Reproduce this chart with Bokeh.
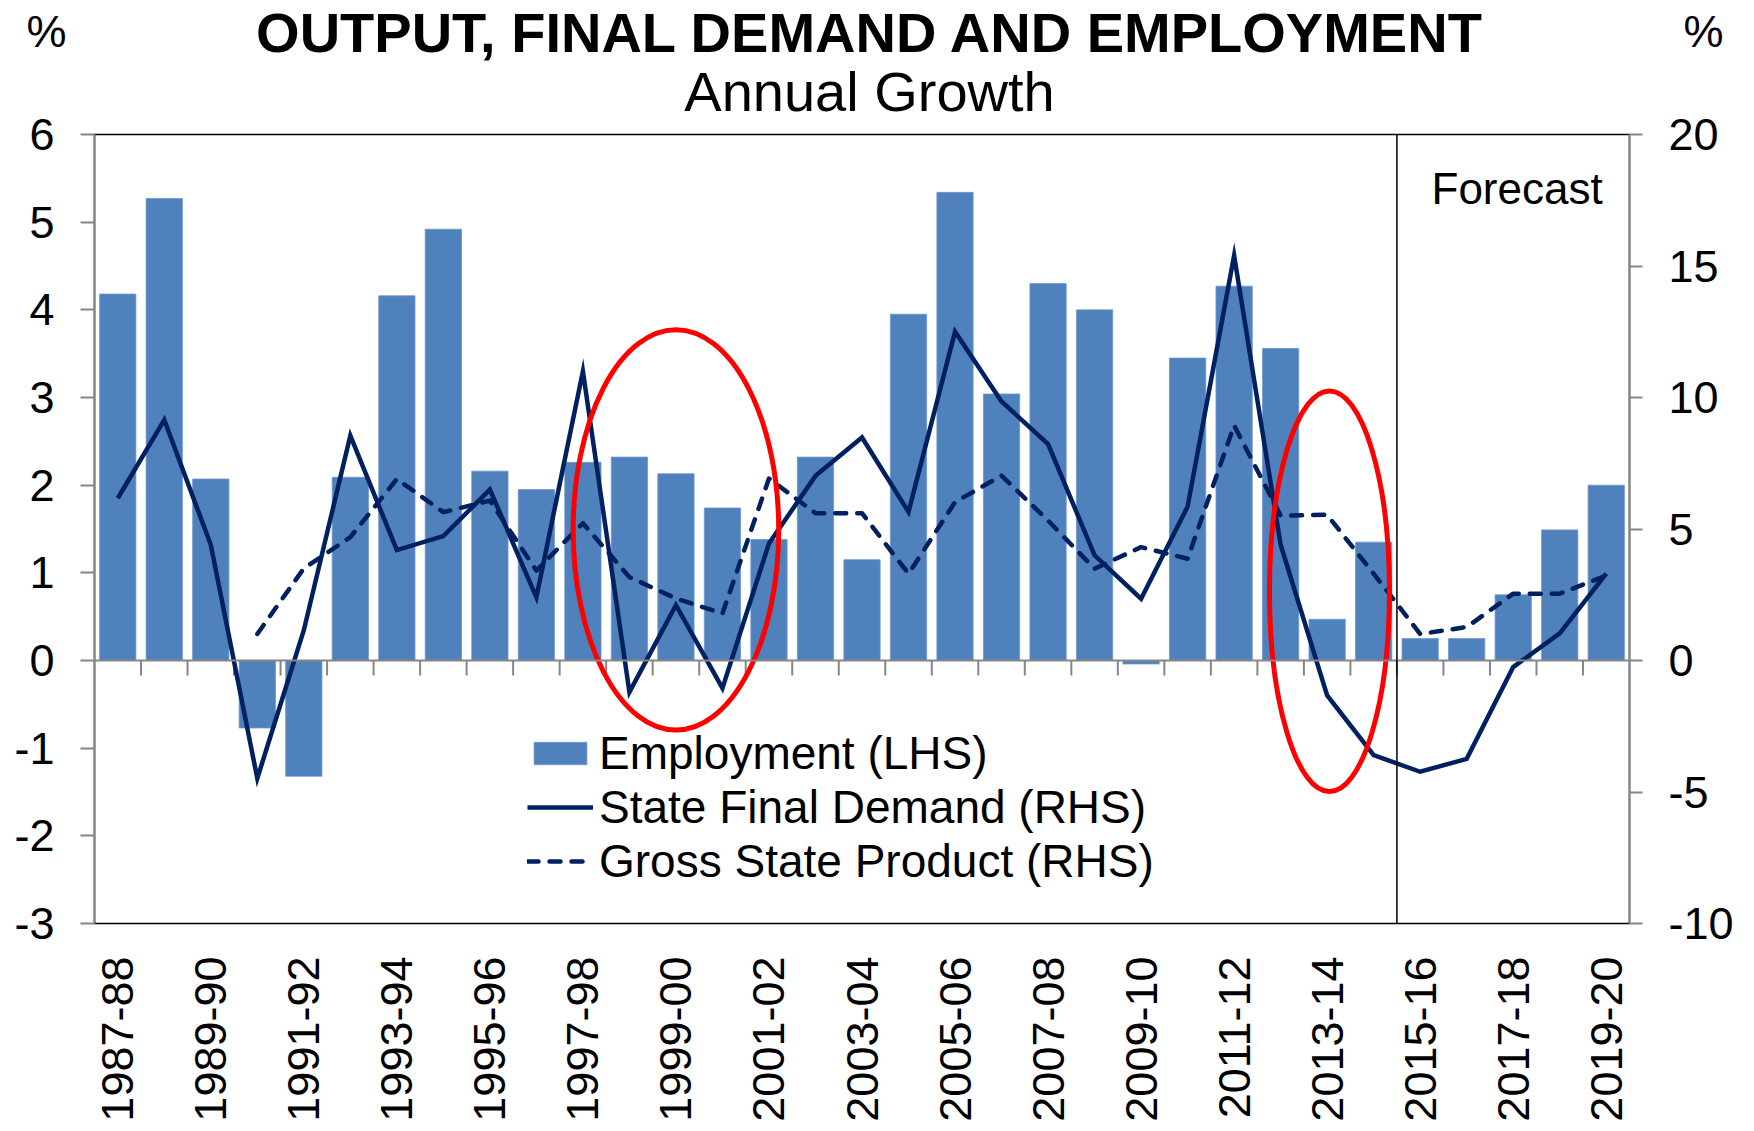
import numpy as np
from bokeh.plotting import figure
from bokeh.layouts import column
from bokeh.models import (Range1d, LinearAxis, FixedTicker, Span, Label,
                          Legend, LegendItem, ColumnDataSource)
from bokeh.core.properties import value
from bokeh.embed import file_html
from bokeh.resources import INLINE

# ---------------- data ----------------
years = ["1987-88", "1988-89", "1989-90", "1990-91", "1991-92", "1992-93",
         "1993-94", "1994-95", "1995-96", "1996-97", "1997-98", "1998-99",
         "1999-00", "2000-01", "2001-02", "2002-03", "2003-04", "2004-05",
         "2005-06", "2006-07", "2007-08", "2008-09", "2009-10", "2010-11",
         "2011-12", "2012-13", "2013-14", "2014-15", "2015-16", "2016-17",
         "2017-18", "2018-19", "2019-20"]

employment = [4.18, 5.27, 2.07, -0.77, -1.32, 2.09, 4.16, 4.92, 2.16, 1.95,
              2.26, 2.32, 2.13, 1.74, 1.38, 2.32, 1.15, 3.95, 5.34, 3.04,
              4.30, 4.00, -0.04, 3.45, 4.27, 3.56, 0.47, 1.35, 0.25, 0.25,
              0.75, 1.49, 2.00]

state_final_demand = [6.17, 9.15, 4.40, -4.48, 1.15, 8.55, 4.20, 4.73, 6.50,
                      2.40, 11.0, -1.20, 2.10, -1.05, 4.45, 7.02, 8.48, 5.65,
                      12.5, 9.85, 8.23, 4.00, 2.35, 5.85, 15.4, 4.40, -1.33,
                      -3.60, -4.23, -3.74, -0.25, 1.03, 3.30]

gross_state_product = [np.nan, np.nan, np.nan, 1.01, 3.50, 4.69, 6.90, 5.64,
                       6.08, 3.42, 5.22, 3.17, 2.36, 1.79, 6.92, 5.60, 5.60,
                       3.30, 6.02, 7.03, 5.32, 3.49, 4.31, 3.87, 8.94, 5.51,
                       5.54, 3.30, 1.01, 1.27, 2.54, 2.54, 3.23]

first_forecast = "2015-16"

lhs_ticks = [-3, -2, -1, 0, 1, 2, 3, 4, 5, 6]
rhs_ticks = [-10, -5, 0, 5, 10, 15, 20]

title_text = "OUTPUT, FINAL DEMAND AND EMPLOYMENT"
subtitle_text = "Annual Growth"
unit_text = "%"

# highlighted regions (category centre, LHS centre, width in categories, height in LHS units)
ellipse_cat = ["1999-00", "2013-14"]
ellipse_dx = [0.0, 0.05]
ellipse_y = [1.49, 0.79]
ellipse_w = [4.42, 2.58]
ellipse_h = [4.57, 4.57]

# ---------------- layout ----------------
FONT = "Liberation Sans"
CW = 1738              # canvas width
FW, FH = 1535, 789     # plot frame
LEFT, TOP = 94, 134    # frame position in picture
HEAD = TOP             # header strip height
OVERLAP = 30           # main canvas starts this far above the frame
RIGHT_B = CW - LEFT - FW
MB_TOP = OVERLAP
MB_BOTTOM = 1115 - (TOP - OVERLAP) - MB_TOP - FH
MID = 0.3465           # baseline offset of a "middle" text, in em
n = len(years)
xc = np.arange(n) + 0.5
PXX = FW / n
PXY = FH / (lhs_ticks[-1] - lhs_ticks[0])


def xd(px):
    return (px - LEFT) / PXX


def yd(py):
    return lhs_ticks[-1] + (TOP - py) / PXY


# ---------------- header strip (titles, unit labels) ----------------
h = figure(frame_width=FW, frame_height=HEAD, output_backend="svg",
           toolbar_location=None, x_range=Range1d(LEFT, LEFT + FW),
           y_range=Range1d(HEAD, 0), x_axis_location=None,
           min_border_left=LEFT, min_border_right=RIGHT_B,
           min_border_top=0, min_border_bottom=0,
           background_fill_color="white", border_fill_color="white")
h.margin = (0, 0, -OVERLAP, 0)
h.outline_line_color = None
h.xgrid.visible = False
h.ygrid.visible = False
h.text(x=[870], y=[51 - MID * 56], text=[title_text], text_font=value(FONT),
       text_font_size="56px", text_font_style="bold", text_color="black",
       text_align="center", text_baseline="middle")
h.text(x=[869], y=[110 - MID * 56], text=[subtitle_text], text_font=value(FONT),
       text_font_size="56px", text_color="black",
       text_align="center", text_baseline="middle")
pct_y = 47 - MID * 45
hl = h.yaxis[0]
hr = LinearAxis()
h.add_layout(hr, "right")
for ax, so in ((hl, 28), (hr, 54)):
    ax.ticker = FixedTicker(ticks=[pct_y])
    ax.major_label_overrides = {pct_y: unit_text}
    ax.axis_line_color = None
    ax.major_tick_line_color = None
    ax.minor_tick_line_color = None
    ax.major_tick_out = 0
    ax.major_tick_in = 0
    ax.major_label_standoff = so
    ax.major_label_text_font = FONT
    ax.major_label_text_font_size = "45px"
    ax.major_label_text_color = "black"

# ---------------- main chart ----------------
p = figure(frame_width=FW, frame_height=FH, output_backend="svg",
           toolbar_location=None, x_range=Range1d(0, n),
           y_range=Range1d(lhs_ticks[0], lhs_ticks[-1]),
           min_border_left=LEFT, min_border_right=RIGHT_B,
           min_border_top=MB_TOP, min_border_bottom=MB_BOTTOM,
           background_fill_color="white", border_fill_alpha=0)
p.extra_y_ranges = {"rhs": Range1d(rhs_ticks[0], rhs_ticks[-1])}
p.xgrid.visible = False
p.ygrid.visible = False
p.outline_line_color = "black"
p.outline_line_width = 1.5

GRAY = "#868686"

# bottom axis (labels only)
xa = p.xaxis[0]
xa.ticker = FixedTicker(ticks=[float(v) for v in xc[::2]])
xa.major_label_overrides = {float(xc[i]): years[i] for i in range(0, n, 2)}
xa.major_label_orientation = np.pi / 2
xa.major_label_text_font = FONT
xa.major_label_text_font_size = "45px"
xa.major_label_text_color = "black"
xa.major_label_standoff = 27
xa.axis_line_color = None
xa.major_tick_line_color = None
xa.minor_tick_line_color = None

# left and right axes
ya = p.yaxis[0]
ya.ticker = FixedTicker(ticks=lhs_ticks)
ya.major_label_overrides = {t: str(t) for t in lhs_ticks}
rya = LinearAxis(y_range_name="rhs", ticker=FixedTicker(ticks=rhs_ticks),
                 major_label_overrides={t: str(t) for t in rhs_ticks})
p.add_layout(rya, "right")
for ax, tout in ((ya, 14), (rya, 13)):
    ax.axis_line_color = GRAY
    ax.axis_line_width = 2
    ax.major_tick_line_color = GRAY
    ax.major_tick_line_width = 2
    ax.major_tick_out = tout
    ax.major_tick_in = 0
    ax.minor_tick_line_color = None
    ax.major_label_text_font = FONT
    ax.major_label_text_font_size = "45px"
    ax.major_label_text_color = "black"
    ax.major_label_standoff = 26

# ---------------- marks ----------------
src = ColumnDataSource(dict(x=xc, emp=employment, sfd=state_final_demand,
                            gsp=gross_state_product))

bars = p.vbar(x="x", top="emp", bottom=0, width=0.78, source=src,
              fill_color="#4F81BD", line_color="#6f97cc", line_width=0.8)

# zero line with category-boundary ticks
p.add_layout(Span(location=0, dimension="width", line_color=GRAY, line_width=2))
bounds = np.arange(1, n)
tick_len = 15 / PXY
p.segment(x0=bounds, y0=np.zeros(len(bounds)), x1=bounds,
          y1=-tick_len * np.ones(len(bounds)), line_color=GRAY, line_width=2)

NAVY = "#002060"
sfd_r = p.line(x="x", y="sfd", source=src, y_range_name="rhs",
               line_color=NAVY, line_width=4.5, line_join="miter")
gsp_r = p.line(x="x", y="gsp", source=src, y_range_name="rhs",
               line_color=NAVY, line_width=4.5, line_dash="11 11",
               line_cap="round", line_join="round")

# forecast divider
fpos = years.index(first_forecast)
p.add_layout(Span(location=fpos, dimension="height", line_color="black",
                  line_width=1.5))
p.add_layout(Label(x=xd(1431), y=yd(203 - MID * 44), text="Forecast",
                   text_font=FONT, text_font_size="44px",
                   text_color="black", text_align="left",
                   text_baseline="middle"))

# red ellipses
ex = [years.index(c) + 0.5 + d for c, d in zip(ellipse_cat, ellipse_dx)]
p.ellipse(x=ex, y=ellipse_y, width=ellipse_w, height=ellipse_h,
          fill_color=None, line_color="#FF0000", line_width=5)

# legend
legend = Legend(items=[LegendItem(label="Employment (LHS)", renderers=[bars]),
                       LegendItem(label="State Final Demand (RHS)", renderers=[sfd_r]),
                       LegendItem(label="Gross State Product (RHS)", renderers=[gsp_r])],
                location=(433, 35), orientation="vertical", padding=0, margin=0,
                spacing=0, label_height=52, glyph_height=28, glyph_width=66,
                label_standoff=6, label_text_font=FONT,
                label_text_font_size="46px", label_text_color="black",
                background_fill_alpha=0, border_line_color=None)
p.add_layout(legend)

layout = column(h, p, spacing=0)
open("out.html", "w").write(file_html(layout, INLINE))
